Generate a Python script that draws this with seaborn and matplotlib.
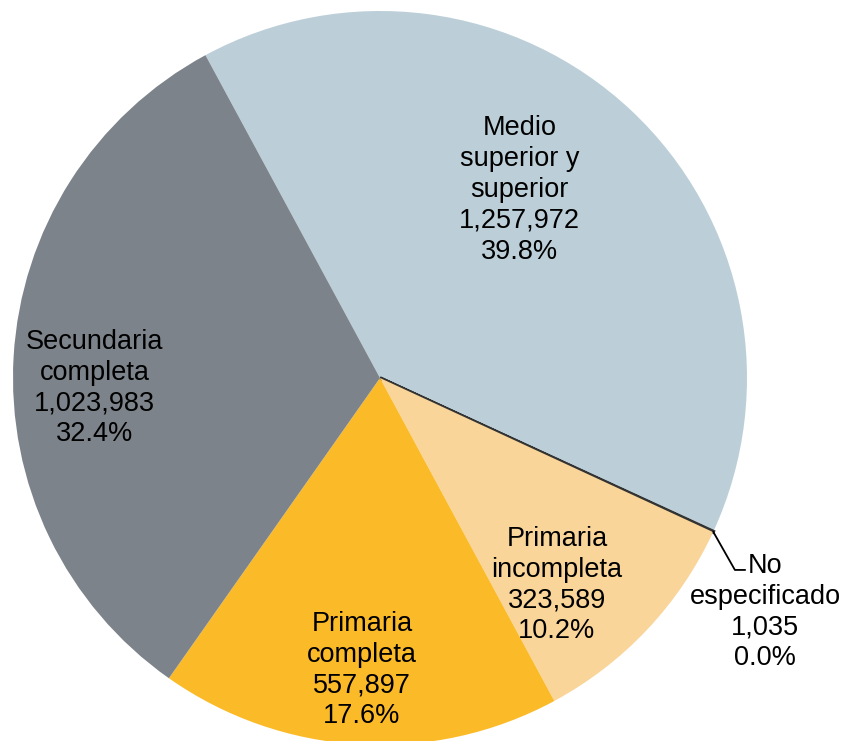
import seaborn as sns
import matplotlib.pyplot as plt
import numpy as np

# data
categorias = ["Medio\nsuperior y\nsuperior", "No\nespecificado", "Primaria\nincompleta",
              "Primaria\ncompleta", "Secundaria\ncompleta"]
valores = [1257972, 1035, 323589, 557897, 1023983]
colores = ["#BCCFD8", "#333333", "#F9D59A", "#FBBA28", "#7D838A"]

# posicion de etiquetas (unidades de datos, radio = 1)
pos_etiquetas = [(0.381, 0.512), (1.049, -0.638), (0.482, -0.564), (-0.049, -0.796), (-0.777, -0.027)]

sns.set_theme(style="white")
plt.rcParams['font.family'] = ['Liberation Sans', 'DejaVu Sans']

fig = plt.figure(figsize=(8.41, 7.41), dpi=100)
R = 367
cx, cy = 380, 378
ax = fig.add_axes([(cx - R) / 841, (741 - cy - R) / 741, 2 * R / 841, 2 * R / 741])

total = sum(valores)
wedges, _ = ax.pie(valores, colors=colores, startangle=118.4, counterclock=False,
                   radius=1, wedgeprops=dict(linewidth=0))
# la rebanada minima se ve como una linea oscura
wedges[1].set_edgecolor("#333333")
wedges[1].set_linewidth(2.4)
ax.set_xlim(-1, 1)
ax.set_ylim(-1, 1)
ax.set_aspect('equal')
ax.axis('off')

for cat, val, (x, y) in zip(categorias, valores, pos_etiquetas):
    txt = f"{cat}\n{val:,}\n{val / total * 100:.1f}%"
    ax.text(x, y, txt, ha='center', va='center', fontsize=19.5, linespacing=1.24, color='black')

# linea guia para "No especificado"
w = wedges[1]
ang = np.deg2rad((w.theta1 + w.theta2) / 2)
x0, y0 = np.cos(ang), np.sin(ang)
ax.plot([x0, 0.967, 0.995], [y0, -0.523, -0.523], color='black', lw=1.3, clip_on=False)

plt.savefig("out.png", dpi=100)
plt.close()
